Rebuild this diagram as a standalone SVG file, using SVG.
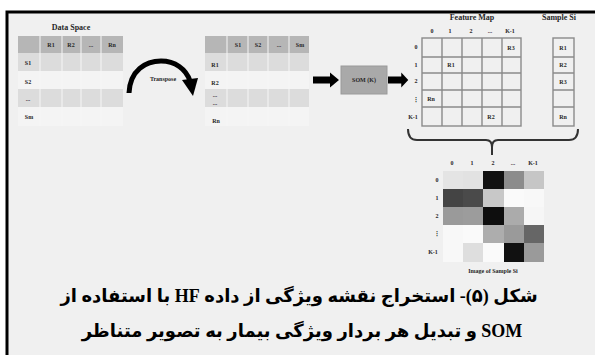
<svg xmlns="http://www.w3.org/2000/svg" width="595" height="355" viewBox="0 0 595 355">
  <style>
    .t { font-family: "Liberation Serif", "DejaVu Serif", serif; font-weight: bold; fill: #262626; }
    .s { font-size: 6px; text-anchor: middle; }
    .h { font-size: 8px; text-anchor: middle; }
    .grid { fill: none; stroke: #8a8a8a; stroke-width: 1.4; }
    .cap { font-family: "Liberation Serif", "DejaVu Sans", serif; font-weight: bold; font-size: 18px; fill: #000; text-anchor: middle; }
  </style>
  <defs>
    <polygon id="fat" points="0,-3.5 17,-3.5 17,-7.5 26,0 17,7.5 17,3.5 0,3.5" fill="#000"/>
  </defs>

  <!-- frame -->
  <rect width="595" height="355" fill="#fff"/>
  <rect x="7" y="12" width="590" height="345" fill="#f0f0f0"/>
  <path d="M7,355 V12 H595" fill="none" stroke="#000" stroke-width="3"/>

  <!-- data space table -->
  <g id="data-space">
    <text class="t h" x="71" y="30">Data Space</text>
    <rect x="18" y="36" width="105" height="17" fill="#b6b6b6"/>
    <rect x="18" y="53" width="105" height="18" fill="#dcdcdc"/>
    <rect x="18" y="71" width="105" height="18" fill="#f4f4f4"/>
    <rect x="18" y="89" width="105" height="18" fill="#dcdcdc"/>
    <rect x="18" y="107" width="105" height="19" fill="#f4f4f4"/>
    <g stroke="#f6f6f6" stroke-width="1">
      <line x1="40" y1="36" x2="40" y2="126"/><line x1="62" y1="36" x2="62" y2="126"/>
      <line x1="81" y1="36" x2="81" y2="126"/><line x1="101" y1="36" x2="101" y2="126"/>
    </g>
    <text class="t s" x="51" y="47">R1</text><text class="t s" x="71" y="47">R2</text>
    <text class="t s" x="91" y="47">...</text><text class="t s" x="112" y="47">Rn</text>
    <text class="t s" x="28" y="65">S1</text><text class="t s" x="28" y="84">S2</text>
    <text class="t s" x="28" y="101">...</text><text class="t s" x="29" y="119">Sm</text>
  </g>

  <!-- transposed table -->
  <g id="transposed">
    <rect x="205" y="36" width="104" height="17" fill="#b6b6b6"/>
    <rect x="205" y="53" width="104" height="18" fill="#dcdcdc"/>
    <rect x="205" y="71" width="104" height="18" fill="#f4f4f4"/>
    <rect x="205" y="89" width="104" height="18" fill="#dcdcdc"/>
    <rect x="205" y="107" width="104" height="19" fill="#f4f4f4"/>
    <g stroke="#f6f6f6" stroke-width="1">
      <line x1="227" y1="36" x2="227" y2="126"/><line x1="248" y1="36" x2="248" y2="126"/>
      <line x1="268" y1="36" x2="268" y2="126"/><line x1="289" y1="36" x2="289" y2="126"/>
    </g>
    <text class="t s" x="238" y="47">S1</text><text class="t s" x="258" y="47">S2</text>
    <text class="t s" x="279" y="47">...</text><text class="t s" x="300" y="47">Sm</text>
    <text class="t s" x="215" y="67">R1</text><text class="t s" x="215" y="85">R2</text>
    <text class="t s" x="215" y="97">...</text><text class="t s" x="215" y="105">...</text>
    <text class="t s" x="216" y="123">Rn</text>
  </g>

  <!-- SOM block -->
  <g id="som">
    <rect x="341" y="66" width="46" height="28" fill="#a9a9a9" stroke="#9a9a9a" stroke-width="1"/>
    <text class="t s" x="364" y="82">SOM (K)</text>
  </g>

  <!-- feature map -->
  <g id="feature-map">
    <text class="t h" x="472" y="20">Feature Map</text>
    <text class="t s" x="432" y="33">0</text><text class="t s" x="450" y="33">1</text>
    <text class="t s" x="471" y="33">2</text><text class="t s" x="490" y="33">...</text>
    <text class="t s" x="510" y="33">K-1</text>
    <text class="t s" x="416" y="49">0</text><text class="t s" x="416" y="67">1</text>
    <text class="t s" x="416" y="83">2</text><text class="t s" x="416" y="101">⋮</text>
    <text class="t s" x="413" y="119">K-1</text>
    <rect class="grid" x="422" y="38" width="99" height="88"/>
    <path class="grid" d="M442,38V126M462,38V126M482,38V126M502,38V126M422,57H521M422,73H521M422,90H521M422,107H521"/>
    <text class="t s" x="511" y="50">R3</text>
    <text class="t s" x="451" y="67">R1</text>
    <text class="t s" x="431" y="101">Rn</text>
    <text class="t s" x="491" y="119">R2</text>
  </g>

  <!-- sample vector -->
  <g id="sample">
    <text class="t h" x="559" y="20">Sample Si</text>
    <rect class="grid" x="553" y="38" width="21" height="88"/>
    <path class="grid" d="M553,57H574M553,73H574M553,90H574M553,107H574"/>
    <text class="t s" x="563" y="50">R1</text>
    <text class="t s" x="563" y="67">R2</text>
    <text class="t s" x="563" y="84">R3</text>
    <text class="t s" x="563" y="119">Rn</text>
  </g>

  <!-- sample image -->
  <g id="sample-image">
    <text class="t s" x="452" y="165">0</text><text class="t s" x="472" y="165">1</text>
    <text class="t s" x="493" y="165">2</text><text class="t s" x="513" y="165">...</text>
    <text class="t s" x="533" y="165">K-1</text>
    <text class="t s" x="437" y="182">0</text><text class="t s" x="437" y="200">1</text>
    <text class="t s" x="437" y="218">2</text><text class="t s" x="437" y="235">⋮</text>
    <text class="t s" x="433" y="254">K-1</text>
    <g stroke="none">
      <rect x="443" y="171" width="20" height="18" fill="#e4e4e4"/>
      <rect x="463" y="171" width="20" height="18" fill="#e2e2e2"/>
      <rect x="483" y="171" width="21" height="18" fill="#111"/>
      <rect x="504" y="171" width="20" height="18" fill="#8c8c8c"/>
      <rect x="524" y="171" width="20" height="18" fill="#c6c6c6"/>
      <rect x="443" y="189" width="20" height="18" fill="#444"/>
      <rect x="463" y="189" width="20" height="18" fill="#4a4a4a"/>
      <rect x="483" y="189" width="21" height="18" fill="#c8c8c8"/>
      <rect x="504" y="189" width="20" height="18" fill="#fafafa"/>
      <rect x="524" y="189" width="20" height="18" fill="#f8f8f8"/>
      <rect x="443" y="207" width="20" height="18" fill="#9a9a9a"/>
      <rect x="463" y="207" width="20" height="18" fill="#9c9c9c"/>
      <rect x="483" y="207" width="21" height="18" fill="#0e0e0e"/>
      <rect x="504" y="207" width="20" height="18" fill="#ababab"/>
      <rect x="524" y="207" width="20" height="18" fill="#f6f6f6"/>
      <rect x="443" y="225" width="20" height="18" fill="#f8f8f8"/>
      <rect x="463" y="225" width="20" height="18" fill="#fafafa"/>
      <rect x="483" y="225" width="21" height="18" fill="#adadad"/>
      <rect x="504" y="225" width="20" height="18" fill="#9a9a9a"/>
      <rect x="524" y="225" width="20" height="18" fill="#666"/>
      <rect x="443" y="243" width="20" height="19" fill="#f8f8f8"/>
      <rect x="463" y="243" width="20" height="19" fill="#dedede"/>
      <rect x="483" y="243" width="21" height="19" fill="#fafafa"/>
      <rect x="504" y="243" width="20" height="19" fill="#111"/>
      <rect x="524" y="243" width="20" height="19" fill="#9a9a9a"/>
    </g>
    <text class="t s" x="493" y="273">Image of Sample Si</text>
  </g>

  <!-- connectors -->
  <g id="connectors">
    <path d="M129,93 C130,70 146,61 161,61 C175,61 186,69 190,81" fill="none" stroke="#000" stroke-width="5"/>
    <polygon points="182,80 198,78 193,96" fill="#000"/>
    <text class="t s" x="163" y="81">Transpose</text>
    <use href="#fat" x="313" y="80"/>
    <use href="#fat" transform="translate(388,80) scale(0.78,1)"/>
    <path d="M408,129 Q408,140 417,140 H486 Q492,140 492,147 V155 M492,147 Q492,140 498,140 H569 Q578,140 578,129" fill="none" stroke="#333" stroke-width="2"/>
  </g>

  <!-- caption (right-to-left) -->
  <g id="caption">
    <text class="cap" x="299" y="302" direction="rtl">شکل (۵)- استخراج نقشه ویژگی از داده HF با استفاده از</text>
    <text class="cap" x="302" y="337" direction="rtl">SOM و تبدیل هر بردار ویژگی بیمار به تصویر متناظر</text>
  </g>
</svg>
